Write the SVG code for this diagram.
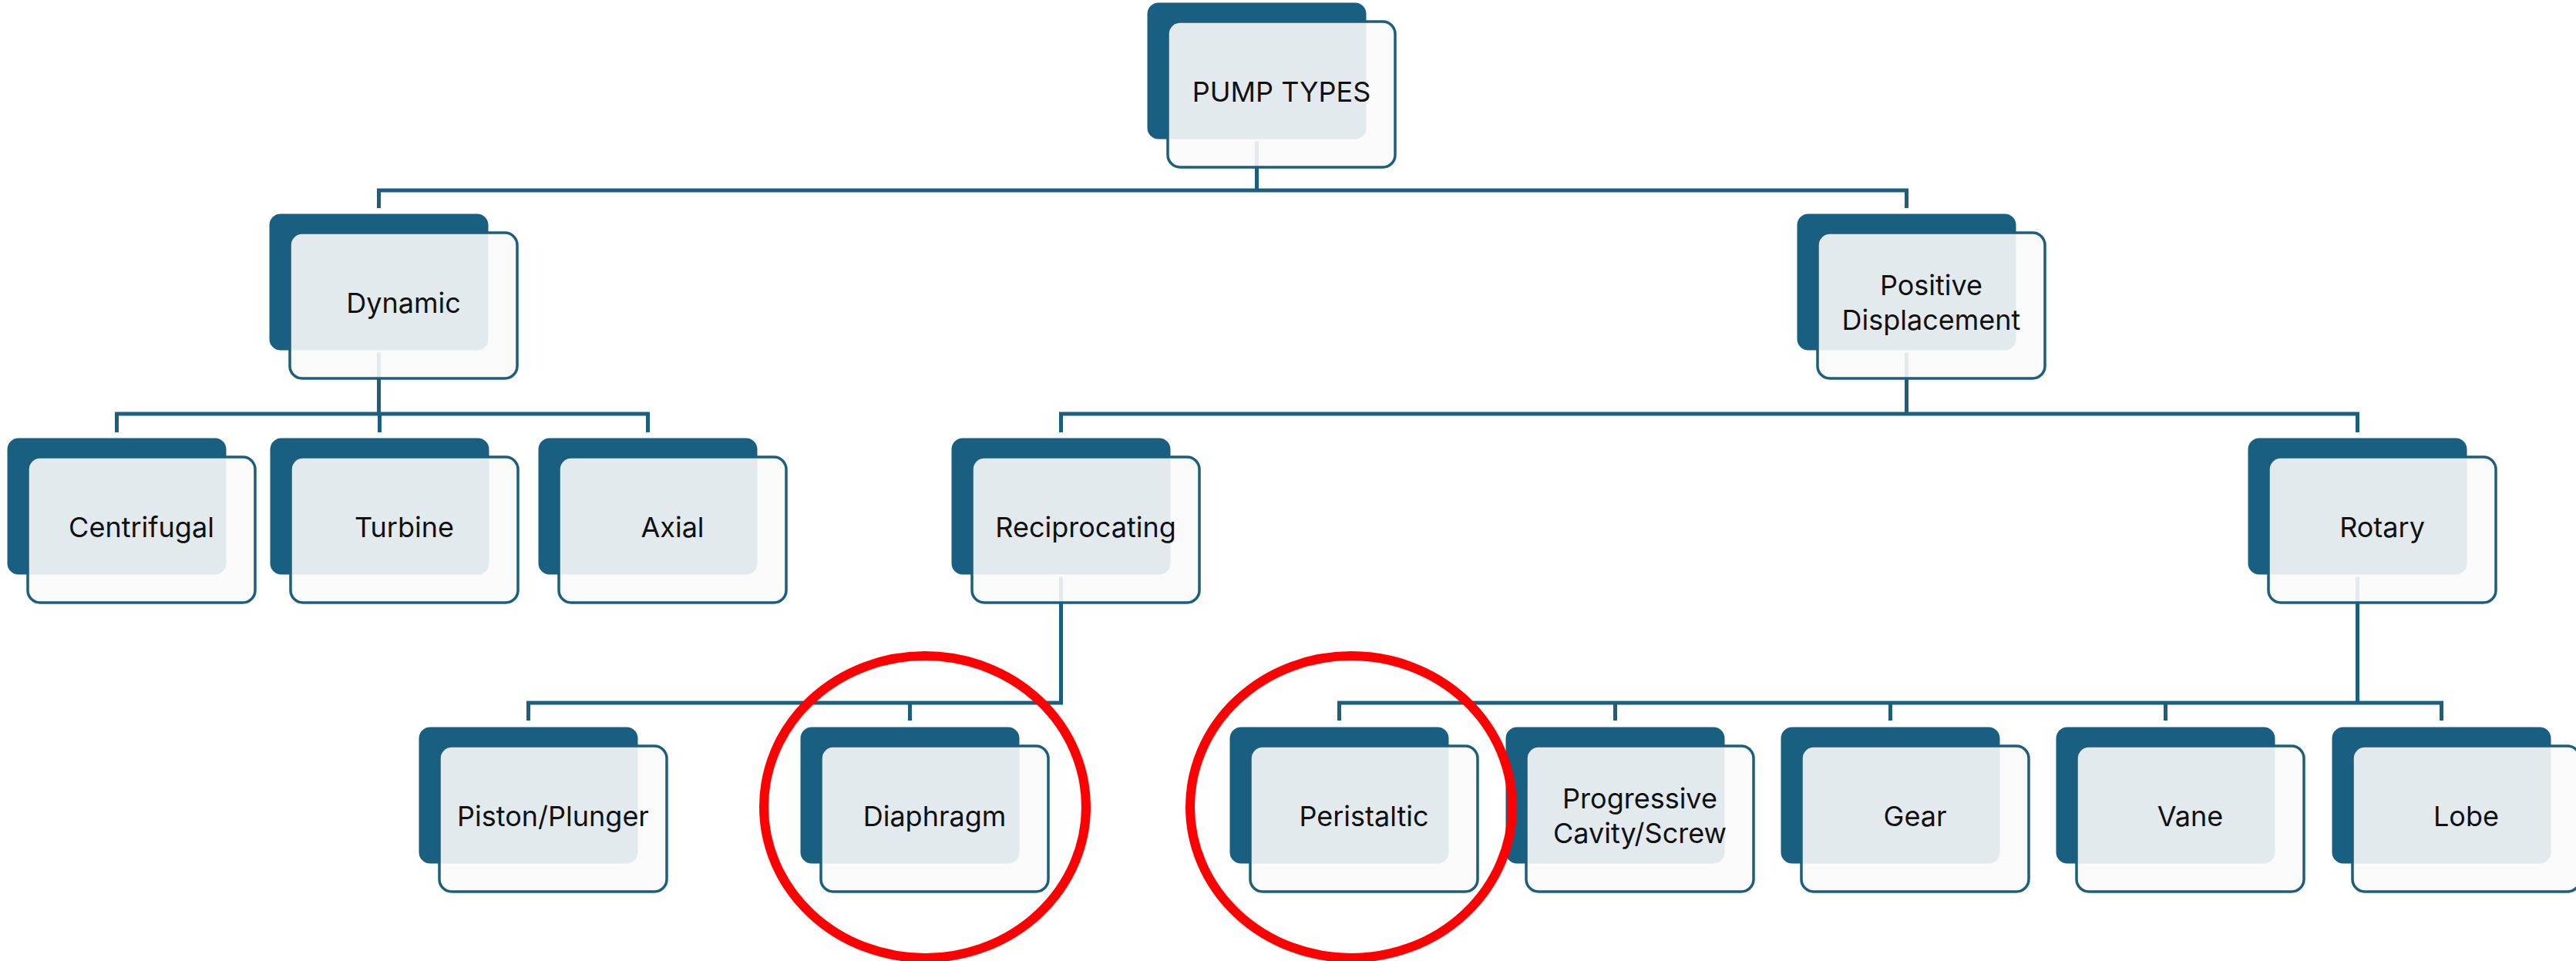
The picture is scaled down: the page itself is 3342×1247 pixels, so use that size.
<svg xmlns="http://www.w3.org/2000/svg" width="3342" height="1247" viewBox="0 0 3342 1247">
<style>
.back{fill:#195F81;stroke:#ffffff;stroke-width:3}
.front{fill:#F9F9F9;fill-opacity:0.9;stroke:#1B5E7E;stroke-width:3.5}
.lbl{font-family:Inter,"Liberation Sans",sans-serif;font-size:36px;fill:#111111;text-anchor:middle}
.conn{fill:none;stroke:#1B5E7E;stroke-width:5}
.mark{fill:none;stroke:#FF0000;stroke-width:12}
</style>
<defs>
<g id="card">
<rect class="back" x="0" y="0" width="287" height="180" rx="16"/>
<rect class="front" x="28" y="26" width="295" height="189" rx="16"/>
</g>
</defs>
<rect width="3342" height="1247" fill="#ffffff"/>
<g id="connectors">
<path class="conn" d="M1630.5,150 V247"/>
<path class="conn" d="M491.5,270 V247 H2473.5 V270"/>
<path class="conn" d="M491.5,400 V537"/>
<path class="conn" d="M151.5,561 V537 H840.5 V561"/>
<path class="conn" d="M492.5,537 V561"/>
<path class="conn" d="M2473.5,400 V537"/>
<path class="conn" d="M1376.5,561 V537 H3058.5 V561"/>
<path class="conn" d="M1376.5,700 V912 H685.5 V935"/>
<path class="conn" d="M1180.5,912 V935"/>
<path class="conn" d="M3058.5,700 V912"/>
<path class="conn" d="M1737.5,935 V912 H3167.5 V935"/>
<path class="conn" d="M2095.5,912 V935"/>
<path class="conn" d="M2452.5,912 V935"/>
<path class="conn" d="M2809.5,912 V935"/>
</g>
<g id="pump-types" transform="translate(1487,2)"><use href="#card"/><text class="lbl" x="175.5" y="130">PUMP TYPES</text></g>
<g id="dynamic" transform="translate(348,276)"><use href="#card"/><text class="lbl" x="175.5" y="130">Dynamic</text></g>
<g id="positive-displacement" transform="translate(2330,276)"><use href="#card"/><text class="lbl" x="175.5" y="107">Positive</text><text class="lbl" x="175.5" y="152">Displacement</text></g>
<g id="centrifugal" transform="translate(8,567)"><use href="#card"/><text class="lbl" x="175.5" y="130">Centrifugal</text></g>
<g id="turbine" transform="translate(349,567)"><use href="#card"/><text class="lbl" x="175.5" y="130">Turbine</text></g>
<g id="axial" transform="translate(697,567)"><use href="#card"/><text class="lbl" x="175.5" y="130">Axial</text></g>
<g id="reciprocating" transform="translate(1233,567)"><use href="#card"/><text class="lbl" x="175.5" y="130">Reciprocating</text></g>
<g id="rotary" transform="translate(2915,567)"><use href="#card"/><text class="lbl" x="175.5" y="130">Rotary</text></g>
<g id="piston-plunger" transform="translate(542,942)"><use href="#card"/><text class="lbl" x="175.5" y="130">Piston/Plunger</text></g>
<g id="diaphragm" transform="translate(1037,942)"><use href="#card"/><text class="lbl" x="175.5" y="130">Diaphragm</text></g>
<g id="peristaltic" transform="translate(1594,942)"><use href="#card"/><text class="lbl" x="175.5" y="130">Peristaltic</text></g>
<g id="progressive-cavity" transform="translate(1952,942)"><use href="#card"/><text class="lbl" x="175.5" y="107">Progressive</text><text class="lbl" x="175.5" y="152">Cavity/Screw</text></g>
<g id="gear" transform="translate(2309,942)"><use href="#card"/><text class="lbl" x="175.5" y="130">Gear</text></g>
<g id="vane" transform="translate(2666,942)"><use href="#card"/><text class="lbl" x="175.5" y="130">Vane</text></g>
<g id="lobe" transform="translate(3024,942)"><use href="#card"/><text class="lbl" x="175.5" y="130">Lobe</text></g>
<g id="highlights">
<ellipse class="mark" cx="1200" cy="1047" rx="209" ry="196"/>
<ellipse class="mark" cx="1753" cy="1047" rx="209" ry="196"/>
</g>
</svg>
